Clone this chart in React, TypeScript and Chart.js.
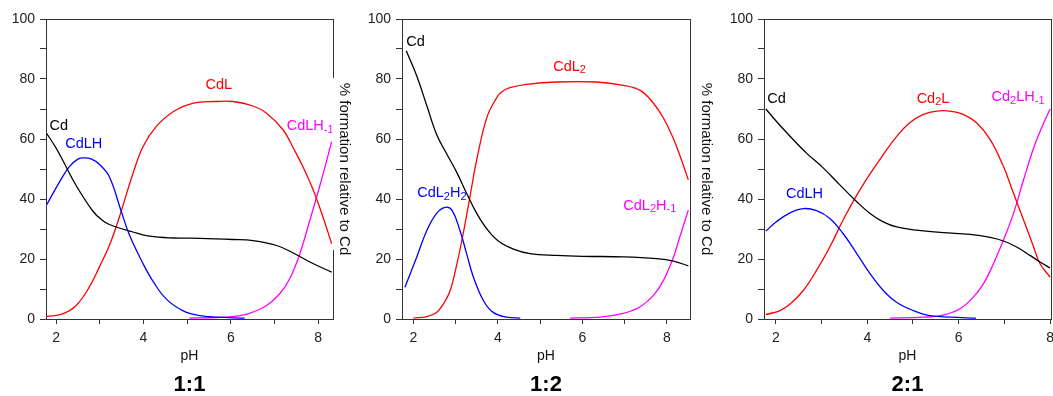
import React, { useEffect, useRef } from 'react';
import { Chart, registerables } from 'chart.js';

Chart.register(...registerables);
Chart.defaults.font.family = '"Liberation Sans", Arial, sans-serif';

type P = [number, number];

// ---------- shared ticks ----------
const X_TICKS = [2, 3, 4, 5, 6, 7, 8];
const Y_TICKS = [0, 10, 20, 30, 40, 50, 60, 70, 80, 90, 100];
const Y_TITLE = '% formation relative to Cd';
const X_TITLE = 'pH';

// ---------- panel 1:1 ----------
const cd11: P[] = [[1.78, 62], [2.0, 57], [2.15, 53], [2.46, 44.5], [2.84, 36], [3.05, 33], [3.22, 31.5], [3.76, 29], [4.14, 27.6], [4.68, 27], [5.29, 26.9], [6.05, 26.5], [6.51, 26.1], [7.05, 24.5], [7.43, 22], [7.81, 19], [8.31, 15.6]];
const cdlh11: P[] = [[1.78, 37.9], [2.08, 45.7], [2.3, 50.7], [2.5, 53.3], [2.65, 53.7], [2.8, 53.4], [2.99, 51.6], [3.22, 47.4], [3.49, 36], [3.68, 28], [3.99, 18.5], [4.21, 12.8], [4.52, 6.7], [4.9, 2.8], [5.29, 1.1], [5.67, 0.6], [6.32, 0.3]];
const cdl11: P[] = [[1.78, 0.8], [2.15, 1.7], [2.46, 4.5], [2.76, 10.6], [2.99, 17.3], [3.22, 24.5], [3.45, 34], [3.76, 48.5], [3.99, 57.4], [4.29, 64.1], [4.68, 69.1], [5.13, 71.9], [5.67, 72.5], [6.05, 72.5], [6.51, 71], [6.82, 68.6], [7.2, 63], [7.43, 57], [7.66, 50.5], [7.89, 42.9], [8.11, 34], [8.31, 25.1]];
const cdlhm11: P[] = [[5.05, 0.3], [5.67, 0.5], [6.05, 0.8], [6.43, 1.9], [6.82, 4.5], [7.12, 8.4], [7.35, 13.4], [7.58, 21.7], [7.81, 32.9], [8.04, 44.5], [8.31, 59.1]];

// ---------- panel 1:2 ----------
const cd12: P[] = [[1.83, 89.4], [2.08, 81], [2.32, 71], [2.55, 61.5], [2.79, 55], [3.03, 48.8], [3.26, 41.9], [3.5, 35.2], [3.74, 30], [4.01, 26], [4.37, 23.3], [4.76, 21.8], [5.39, 21.2], [6.03, 20.9], [6.97, 20.7], [7.76, 20.1], [8.16, 19.3], [8.51, 17.7]];
const cdl2h2_12: P[] = [[1.8, 10.6], [2.08, 20.7], [2.32, 29.6], [2.55, 35.2], [2.75, 37.2], [2.91, 36.3], [3.1, 29.6], [3.26, 21.8], [3.42, 14], [3.66, 6.1], [3.89, 2.2], [4.21, 0.6], [4.53, 0.3]];
const cdl2_12: P[] = [[2.0, 0.3], [2.32, 0.8], [2.55, 2.2], [2.71, 5], [2.87, 9.5], [3.03, 18.4], [3.18, 28.5], [3.34, 40.8], [3.5, 53.1], [3.74, 67.2], [3.97, 73.7], [4.1, 75.8], [4.29, 77.1], [4.68, 78.2], [5.39, 79], [6.34, 79], [6.97, 77.9], [7.37, 76.2], [7.68, 72], [7.92, 67], [8.16, 60], [8.31, 54.5], [8.51, 46.4]];
const cdl2hm12: P[] = [[5.71, 0.3], [6.42, 0.6], [6.97, 1.9], [7.37, 4.1], [7.68, 7.8], [7.92, 12.8], [8.16, 20.7], [8.31, 27.4], [8.51, 36.3]];

// ---------- panel 2:1 ----------
const cd21: P[] = [[1.78, 70], [2.01, 65.9], [2.31, 60.9], [2.67, 55.3], [3.04, 50.3], [3.4, 44.7], [3.77, 39.1], [4.06, 35.2], [4.35, 32.4], [4.64, 30.7], [5.08, 29.6], [5.66, 28.8], [6.25, 28.2], [6.69, 27.2], [6.98, 26], [7.27, 24], [7.56, 21.2], [7.78, 19], [8.0, 17]];
const cdlh21: P[] = [[1.78, 29.3], [2.01, 32.4], [2.31, 35.4], [2.6, 36.8], [2.89, 36.1], [3.18, 33.5], [3.47, 28.5], [3.77, 21.8], [4.06, 15.1], [4.35, 9.5], [4.64, 5.6], [5.01, 2.8], [5.37, 1.1], [5.81, 0.6], [6.38, 0.3]];
const cd2l21: P[] = [[1.78, 1.5], [2.09, 2.8], [2.31, 5], [2.6, 9.5], [2.89, 16.2], [3.18, 24], [3.47, 33], [3.77, 41.3], [4.06, 48.4], [4.35, 54.8], [4.64, 60.8], [4.93, 65.4], [5.23, 68.2], [5.52, 69.3], [5.81, 69.3], [6.1, 68.2], [6.39, 65.4], [6.69, 59.8], [6.98, 50.8], [7.2, 41.9], [7.42, 33], [7.64, 24], [7.78, 18.4], [8.0, 14]];
const cd2lhm21: P[] = [[4.5, 0.3], [5.23, 0.6], [5.66, 1.3], [6.03, 3.4], [6.32, 7.3], [6.54, 11.7], [6.76, 18.4], [6.98, 26.3], [7.2, 35.2], [7.42, 46.4], [7.64, 57], [7.85, 65], [8.0, 70]];

const BLACK = '#000000';
const RED = '#ff0000';
const BLUE = '#0000ff';
const MAGENTA = '#ff00ff';

type Label = { parts: string[]; x: number; y: number; color: string };
type Panel = {
  title: string;
  xMin: number; xMax: number;
  left: number; right: number;
  series: { data: P[]; color: string }[];
  labels: Label[];
  yTitle?: { cx: number; box?: [number, number, number, number] };
};

const panels: Panel[] = [
  {
    title: '1:1', xMin: 1.77, xMax: 8.34, left: 46, right: 333,
    series: [
      { data: cd11, color: BLACK }, { data: cdlh11, color: BLUE },
      { data: cdl11, color: RED }, { data: cdlhm11, color: MAGENTA },
    ],
    labels: [
      { parts: ['Cd'], x: 1.85, y: 64.3, color: BLACK },
      { parts: ['CdLH'], x: 2.21, y: 58.2, color: BLUE },
      { parts: ['CdL'], x: 5.42, y: 78, color: RED },
      { parts: ['CdLH', '-1'], x: 7.28, y: 64.3, color: MAGENTA },
    ],
  },
  {
    title: '1:2', xMin: 1.73, xMax: 8.55, left: 402, right: 690,
    series: [
      { data: cd12, color: BLACK }, { data: cdl2h2_12, color: BLUE },
      { data: cdl2_12, color: RED }, { data: cdl2hm12, color: MAGENTA },
    ],
    labels: [
      { parts: ['Cd'], x: 1.83, y: 92.2, color: BLACK },
      { parts: ['CdL', '2'], x: 5.31, y: 84.1, color: RED },
      { parts: ['CdL', '2', 'H', '2'], x: 2.09, y: 41.9, color: BLUE },
      { parts: ['CdL', '2', 'H', '-1'], x: 6.97, y: 37.7, color: MAGENTA },
    ],
    yTitle: { cx: 344, box: [332, 78, 22, 172] },
  },
  {
    title: '2:1', xMin: 1.74, xMax: 8.02, left: 764, right: 1051,
    series: [
      { data: cd21, color: BLACK }, { data: cdlh21, color: BLUE },
      { data: cd2l21, color: RED }, { data: cd2lhm21, color: MAGENTA },
    ],
    labels: [
      { parts: ['Cd'], x: 1.81, y: 73.4, color: BLACK },
      { parts: ['CdLH'], x: 2.22, y: 41.6, color: BLUE },
      { parts: ['Cd', '2', 'L'], x: 5.08, y: 73.4, color: RED },
      { parts: ['Cd', '2', 'LH', '-1'], x: 6.72, y: 74, color: MAGENTA },
    ],
    yTitle: { cx: 706 },
  },
];

const FAMILY = '"Liberation Sans", Arial, sans-serif';

function makeDeco(p: Panel) {
  return {
    id: 'deco',
    afterDatasetsDraw(chart: any) {
      const ctx = chart.ctx as CanvasRenderingContext2D;
      const xs = chart.scales.x;
      const ys = chart.scales.y;
      ctx.save();
      ctx.textBaseline = 'middle';
      ctx.textAlign = 'left';
      for (const lb of p.labels) {
        let x = xs.getPixelForValue(lb.x);
        const y = ys.getPixelForValue(lb.y);
        ctx.fillStyle = lb.color;
        lb.parts.forEach((t, i) => {
          const sub = i % 2 === 1;
          ctx.font = sub ? `11px ${FAMILY}` : `14.5px ${FAMILY}`;
          ctx.fillText(t, x, sub ? y + 3.5 : y);
          x += ctx.measureText(t).width;
        });
      }
      ctx.restore();
    },
    afterDraw(chart: any) {
      const ctx = chart.ctx as CanvasRenderingContext2D;
      const a = chart.chartArea;
      ctx.save();
      ctx.strokeStyle = '#333';
      ctx.lineWidth = 1;
      const l = Math.round(a.left) + 0.5, r = Math.round(a.right) + 0.5;
      const t = Math.round(a.top) + 0.5, b = Math.round(a.bottom) + 0.5;
      ctx.strokeRect(l, t, r - l, b - t);
      if (p.yTitle) {
        if (p.yTitle.box) {
          const [bx, by, bw, bh] = p.yTitle.box;
          ctx.fillStyle = '#ffffff';
          ctx.fillRect(bx, by, bw, bh);
        }
        ctx.translate(p.yTitle.cx, (a.top + a.bottom) / 2);
        ctx.rotate(Math.PI / 2);
        ctx.fillStyle = '#111';
        ctx.font = `15px ${FAMILY}`;
        ctx.textAlign = 'center';
        ctx.textBaseline = 'middle';
        ctx.fillText(Y_TITLE, 0, 0);
      }
      ctx.restore();
    },
  };
}

function makeConfig(p: Panel): any {
  return {
    type: 'line',
    data: {
      datasets: p.series.map((s) => ({
        data: s.data.map(([x, y]) => ({ x, y })),
        borderColor: s.color,
        borderWidth: 1.3,
        pointRadius: 0,
        fill: false,
        tension: 0.4,
      })),
    },
    options: {
      animation: false,
      responsive: false,
      devicePixelRatio: 1,
      events: [],
      layout: { padding: { left: p.left - 40, right: 1053 - p.right, top: 19, bottom: 0 } },
      plugins: {
        legend: { display: false },
        tooltip: { enabled: false },
        title: {
          display: true,
          text: p.title,
          position: 'bottom',
          fullSize: false,
          color: '#000',
          font: { size: 22, weight: 'bold', lineHeight: 1 },
          padding: { top: 9, bottom: 0 },
        },
      },
      scales: {
        x: {
          type: 'linear',
          min: p.xMin,
          max: p.xMax,
          afterBuildTicks: (s: any) => { s.ticks = X_TICKS.map((v) => ({ value: v })); },
          afterFit: (s: any) => { s.height = 46; s.paddingLeft = 0; s.paddingRight = 0; },
          grid: { drawOnChartArea: false, tickLength: 5, color: '#333' },
          border: { color: '#333' },
          ticks: {
            callback: (v: number) => (v % 2 === 0 ? String(v) : ''),
            autoSkip: false, maxRotation: 0, padding: 6, color: '#222',
            font: { size: 14 },
          },
          title: { display: true, text: X_TITLE, color: '#111', font: { size: 14 }, padding: { top: 0, bottom: 0 } },
        },
        y: {
          type: 'linear',
          min: 0,
          max: 100,
          afterBuildTicks: (s: any) => { s.ticks = Y_TICKS.map((v) => ({ value: v })); },
          afterFit: (s: any) => { s.width = 40; s.paddingTop = 0; s.paddingBottom = 0; },
          grid: { drawOnChartArea: false, tickLength: 6, color: '#333' },
          border: { color: '#333' },
          ticks: {
            callback: (v: number) => (v % 20 === 0 ? String(v) : ''),
            autoSkip: false, padding: 5, color: '#222',
            font: { size: 14 },
          },
        },
      },
    },
    plugins: [makeDeco(p)],
  };
}

export default function App() {
  const r0 = useRef<HTMLCanvasElement>(null);
  const r1 = useRef<HTMLCanvasElement>(null);
  const r2 = useRef<HTMLCanvasElement>(null);
  const refs = [r0, r1, r2];
  useEffect(() => {
    const charts = panels.map((p, i) => new Chart(refs[i].current as HTMLCanvasElement, makeConfig(p)));
    return () => charts.forEach((c) => c.destroy());
  }, []);
  return (
    <div style={{ position: 'fixed', left: 0, top: 0, width: 1053, height: 396, background: '#fff', overflow: 'hidden' }}>
      {panels.map((p, i) => (
        <canvas key={p.title} ref={refs[i]} width={1053} height={396}
          style={{ position: 'absolute', left: 0, top: 0, width: 1053, height: 396 }} />
      ))}
    </div>
  );
}
